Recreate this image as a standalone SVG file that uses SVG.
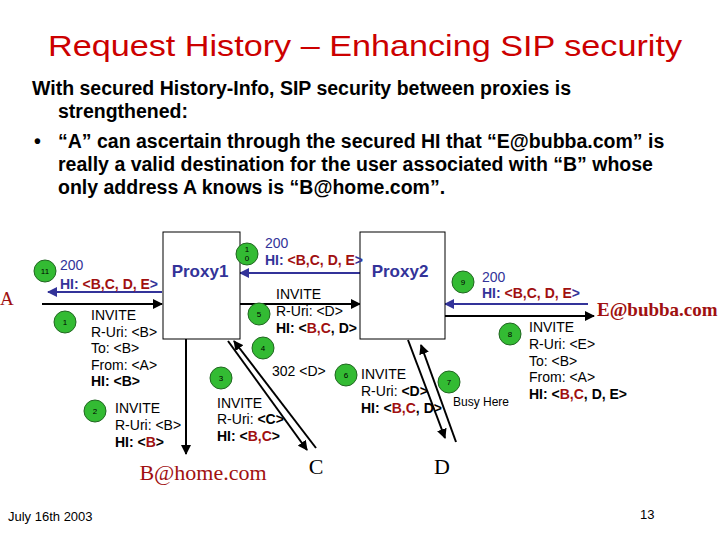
<svg xmlns="http://www.w3.org/2000/svg" width="720" height="540" viewBox="0 0 720 540">
<style>
text{font-family:"Liberation Sans",Arial,sans-serif}
.t{font-size:14px;fill:#000}
.b{font-weight:bold}
.r{fill:#a01010}
.bl{fill:#333399}
.sv{font-family:"Liberation Serif","Times New Roman",serif}
.box{fill:#fff;stroke:#000;stroke-width:1}
.c{fill:#33bb33;stroke:#226622;stroke-width:1}
.n{font-size:8px;text-anchor:middle}
.k{stroke:#000;stroke-width:2;fill:none}
.u{stroke:#333399;stroke-width:2;fill:none}
</style>
<defs>
<marker id="ak" viewBox="0 0 10 10" refX="9" refY="5" markerWidth="5" markerHeight="5" orient="auto"><path d="M0,0L10,5L0,10z" fill="#000"/></marker>
<marker id="au" viewBox="0 0 10 10" refX="9" refY="5" markerWidth="5" markerHeight="5" orient="auto"><path d="M0,0L10,5L0,10z" fill="#333399"/></marker>
</defs>
<rect width="720" height="540" fill="#fff"/>
<text x="48" y="56" textLength="634" lengthAdjust="spacingAndGlyphs" style="font-size:30px;fill:#cc0000">Request History – Enhancing SIP security</text>
<g style="font-size:19.5px;font-weight:bold;fill:#000">
<text x="32" y="95">With secured History-Info, SIP security between proxies is</text>
<text x="58" y="118">strengthened:</text>
<text x="34" y="148">•</text>
<text x="58" y="148">“A” can ascertain through the secured HI that “E@bubba.com” is</text>
<text x="58" y="171">really a valid destination for the user associated with “B” whose</text>
<text x="58" y="194">only address A knows is “B@home.com”.</text>
</g>
<g id="connectors">
<line class="k" x1="42" y1="304" x2="162" y2="304" marker-end="url(#ak)"/>
<line class="u" x1="162" y1="292" x2="48" y2="292" marker-end="url(#au)"/>
<line class="k" x1="186" y1="339" x2="186" y2="454" marker-end="url(#ak)"/>
<line class="k" x1="228" y1="341" x2="307" y2="450" marker-end="url(#ak)"/>
<line class="k" x1="316" y1="448" x2="234" y2="341" marker-end="url(#ak)"/>
<line class="k" x1="240" y1="304" x2="360" y2="304" marker-end="url(#ak)"/>
<line class="u" x1="360" y1="273" x2="240" y2="273" marker-end="url(#au)"/>
<line class="k" x1="408" y1="340" x2="445" y2="438" marker-end="url(#ak)"/>
<line class="k" x1="456" y1="442" x2="421" y2="345" marker-end="url(#ak)"/>
<line class="k" x1="445" y1="316" x2="594" y2="316" marker-end="url(#ak)"/>
<line class="u" x1="588" y1="304" x2="445" y2="304" marker-end="url(#au)"/>
</g>
<g id="proxy1"><rect class="box" x="163" y="232" width="77" height="107"/><text x="200" y="277" text-anchor="middle" class="b bl" style="font-size:17px">Proxy1</text></g>
<g id="proxy2"><rect class="box" x="360" y="232" width="85" height="107"/><text x="400" y="277" text-anchor="middle" class="b bl" style="font-size:17px">Proxy2</text></g>
<g id="A"><text x="0" y="305" class="sv r" style="font-size:19px">A</text></g>
<g id="B"><text x="203" y="480" text-anchor="middle" class="sv r" style="font-size:22px">B@home.com</text></g>
<g id="C"><text x="316" y="474" text-anchor="middle" class="sv" style="font-size:22px">C</text></g>
<g id="D"><text x="442" y="474" text-anchor="middle" class="sv" style="font-size:22px">D</text></g>
<g id="E"><text x="597" y="316" class="sv b r" style="font-size:19px">E@bubba.com</text></g>
<g id="steps">
<circle class="c" cx="45" cy="271" r="11"/><text x="45" y="274" class="n">11</text>
<circle class="c" cx="65" cy="322" r="11"/><text x="65" y="325" class="n">1</text>
<circle class="c" cx="95" cy="411" r="11"/><text x="95" y="414" class="n">2</text>
<circle class="c" cx="221" cy="378" r="11"/><text x="221" y="381" class="n">3</text>
<circle class="c" cx="263" cy="348" r="11"/><text x="263" y="351" class="n">4</text>
<circle class="c" cx="259" cy="314" r="11"/><text x="259" y="317" class="n">5</text>
<circle class="c" cx="346" cy="375" r="11"/><text x="346" y="378" class="n">6</text>
<circle class="c" cx="449" cy="382" r="11"/><text x="449" y="385" class="n">7</text>
<circle class="c" cx="510" cy="334" r="11"/><text x="510" y="337" class="n">8</text>
<circle class="c" cx="463" cy="282" r="11"/><text x="463" y="285" class="n">9</text>
<circle class="c" cx="247" cy="254" r="11"/><text x="247" y="252" class="n">1</text><text x="247" y="261" class="n">0</text>
</g>
<g id="labels" class="t">
<text x="60" y="270" class="bl">200</text>
<text x="60" y="289" class="b bl">HI: <tspan class="r">&lt;B,C, D, E</tspan>&gt;</text>
<text x="91" y="320">INVITE</text><text x="91" y="337">R-Uri: &lt;B&gt;</text><text x="91" y="353">To: &lt;B&gt;</text><text x="91" y="370">From: &lt;A&gt;</text><text x="91" y="386" class="b">HI: &lt;B&gt;</text>
<text x="115" y="413">INVITE</text><text x="115" y="430">R-Uri: &lt;B&gt;</text><text x="115" y="447" class="b">HI: &lt;<tspan class="r">B</tspan>&gt;</text>
<text x="217" y="408">INVITE</text><text x="217" y="424">R-Uri: <tspan class="b">&lt;C&gt;</tspan></text><text x="217" y="441" class="b">HI: &lt;<tspan class="r">B,C</tspan>&gt;</text>
<text x="272" y="376">302 &lt;D&gt;</text>
<text x="276" y="299">INVITE</text><text x="276" y="316">R-Uri: &lt;D&gt;</text><text x="276" y="333" class="b">HI: &lt;<tspan class="r">B,C</tspan>, D&gt;</text>
<text x="265" y="248" class="bl">200</text>
<text x="265" y="265" class="b bl">HI: <tspan class="r">&lt;B,C, D, E</tspan>&gt;</text>
<text x="361" y="379">INVITE</text><text x="361" y="396">R-Uri: <tspan class="b">&lt;D&gt;</tspan></text><text x="361" y="413" class="b">HI: &lt;<tspan class="r">B,C</tspan>, D&gt;</text>
<text x="453" y="406" style="font-size:12px">Busy Here</text>
<text x="482" y="282" class="bl">200</text>
<text x="482" y="298" class="b bl">HI: <tspan class="r">&lt;B,C, D, E</tspan>&gt;</text>
<text x="529" y="332">INVITE</text><text x="529" y="349">R-Uri: &lt;E&gt;</text><text x="529" y="366">To: &lt;B&gt;</text><text x="529" y="382">From: &lt;A&gt;</text><text x="529" y="399" class="b">HI: &lt;<tspan class="r">B,C</tspan>, D, E&gt;</text>
</g>
<text x="8" y="521" style="font-size:13px">July 16th 2003</text>
<text x="640" y="519" style="font-size:13px">13</text>
</svg>
